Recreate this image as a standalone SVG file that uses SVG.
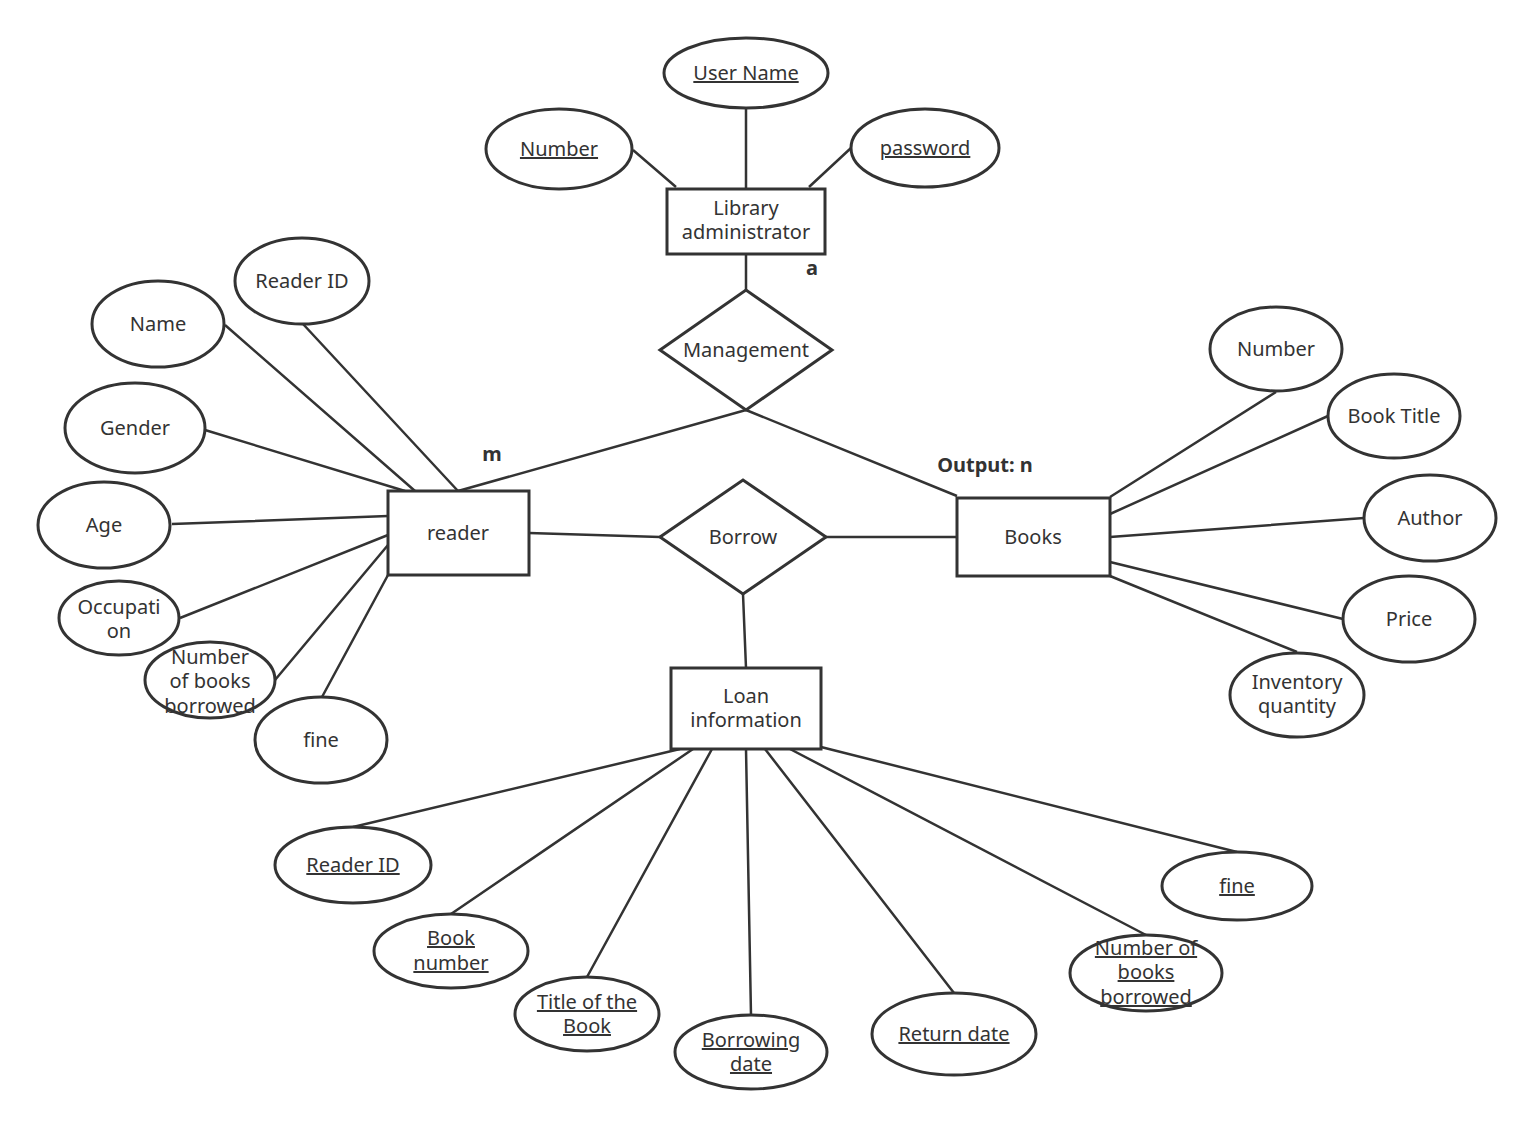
<svg xmlns="http://www.w3.org/2000/svg" width="1534" height="1126" viewBox="0 0 1534 1126">
<style>
.s{fill:#fff;stroke:#333;stroke-width:3}
.l{stroke:#333;stroke-width:2.5;fill:none}
text{font-family:"Noto Sans","Open Sans",sans-serif;font-size:20px;fill:#333;text-anchor:middle}
.u{text-decoration:underline}
.b{font-weight:bold}
</style>
<rect width="1534" height="1126" fill="#fff"/>
<g id="connectors" class="l">
<path d="M633,150L676,187M746,108V189M851,148L809,187M746,254V290M746,410L458,491M746,410L957,496M529,533L660,537M826,537H957M743,594L746,668"/>
<path d="M303,324L458,491M225,325L415,491M205,430L405,491M172,524L388,516M180,618L388,535M275,680L388,545M322,697L388,575"/>
<path d="M1276,392L1110,497M1328,416L1110,514M1364,518L1110,537M1343,619L1110,562M1297,652L1110,576"/>
<path d="M353,827L680,749M451,914L693,749M587,977L712,749M751,1015L746,749M954,993L765,749M1146,935L790,749M1237,852L821,747"/>
</g>
<g id="username"><ellipse class="s" cx="746" cy="73" rx="82" ry="35"/><text class="u" x="746" y="80">User Name</text></g>
<g id="adminNumber"><ellipse class="s" cx="559" cy="149" rx="73" ry="40"/><text class="u" x="559" y="156">Number</text></g>
<g id="password"><ellipse class="s" cx="925" cy="148" rx="74" ry="39"/><text class="u" x="925" y="155">password</text></g>
<g id="admin"><rect class="s" x="667" y="189" width="158" height="65"/><text x="746" y="215">Library</text><text x="746" y="239">administrator</text></g>
<text class="b" x="812" y="275">a</text>
<text class="b" x="492" y="461">m</text>
<text class="b" x="985" y="472">Output: n</text>
<g id="management"><polygon class="s" points="660,350 746,290 832,350 746,410"/><text x="746" y="357">Management</text></g>
<g id="reader"><rect class="s" x="388" y="491" width="141" height="84"/><text x="458" y="540">reader</text></g>
<g id="borrow"><polygon class="s" points="660,537 743,480 826,537 743,594"/><text x="743" y="544">Borrow</text></g>
<g id="books"><rect class="s" x="957" y="498" width="153" height="78"/><text x="1033" y="544">Books</text></g>
<g id="loan"><rect class="s" x="671" y="668" width="150" height="81"/><text x="746" y="703">Loan</text><text x="746" y="727">information</text></g>
<g id="rReaderID"><ellipse class="s" cx="302" cy="281" rx="67" ry="43"/><text x="302" y="288">Reader ID</text></g>
<g id="rName"><ellipse class="s" cx="158" cy="324" rx="66" ry="43"/><text x="158" y="331">Name</text></g>
<g id="rGender"><ellipse class="s" cx="135" cy="428" rx="70" ry="45"/><text x="135" y="435">Gender</text></g>
<g id="rAge"><ellipse class="s" cx="104" cy="525" rx="66" ry="43"/><text x="104" y="532">Age</text></g>
<g id="rOcc"><ellipse class="s" cx="119" cy="618" rx="60" ry="37"/><text x="119" y="614">Occupati</text><text x="119" y="638">on</text></g>
<g id="rNum"><ellipse class="s" cx="210" cy="680" rx="65" ry="38"/><text x="210" y="664">Number</text><text x="210" y="688">of books</text><text x="210" y="713">borrowed</text></g>
<g id="rFine"><ellipse class="s" cx="321" cy="740" rx="66" ry="43"/><text x="321" y="747">fine</text></g>
<g id="bNumber"><ellipse class="s" cx="1276" cy="349" rx="66" ry="42"/><text x="1276" y="356">Number</text></g>
<g id="bTitle"><ellipse class="s" cx="1394" cy="416" rx="66" ry="42"/><text x="1394" y="423">Book Title</text></g>
<g id="bAuthor"><ellipse class="s" cx="1430" cy="518" rx="66" ry="43"/><text x="1430" y="525">Author</text></g>
<g id="bPrice"><ellipse class="s" cx="1409" cy="619" rx="66" ry="43"/><text x="1409" y="626">Price</text></g>
<g id="bInv"><ellipse class="s" cx="1297" cy="695" rx="67" ry="42"/><text x="1297" y="689">Inventory</text><text x="1297" y="713">quantity</text></g>
<g id="lReaderID"><ellipse class="s" cx="353" cy="865" rx="78" ry="38"/><text class="u" x="353" y="872">Reader ID</text></g>
<g id="lBookNum"><ellipse class="s" cx="451" cy="951" rx="77" ry="37"/><text class="u" x="451" y="945">Book</text><text class="u" x="451" y="970">number</text></g>
<g id="lTitle"><ellipse class="s" cx="587" cy="1014" rx="72" ry="37"/><text class="u" x="587" y="1009">Title of the</text><text class="u" x="587" y="1033">Book</text></g>
<g id="lBorrowDate"><ellipse class="s" cx="751" cy="1052" rx="76" ry="37"/><text class="u" x="751" y="1047">Borrowing</text><text class="u" x="751" y="1071">date</text></g>
<g id="lReturn"><ellipse class="s" cx="954" cy="1034" rx="82" ry="41"/><text class="u" x="954" y="1041">Return date</text></g>
<g id="lNum"><ellipse class="s" cx="1146" cy="973" rx="76" ry="38"/><text class="u" x="1146" y="955">Number of</text><text class="u" x="1146" y="979">books</text><text class="u" x="1146" y="1004">borrowed</text></g>
<g id="lFine"><ellipse class="s" cx="1237" cy="886" rx="75" ry="34"/><text class="u" x="1237" y="893">fine</text></g>
</svg>
